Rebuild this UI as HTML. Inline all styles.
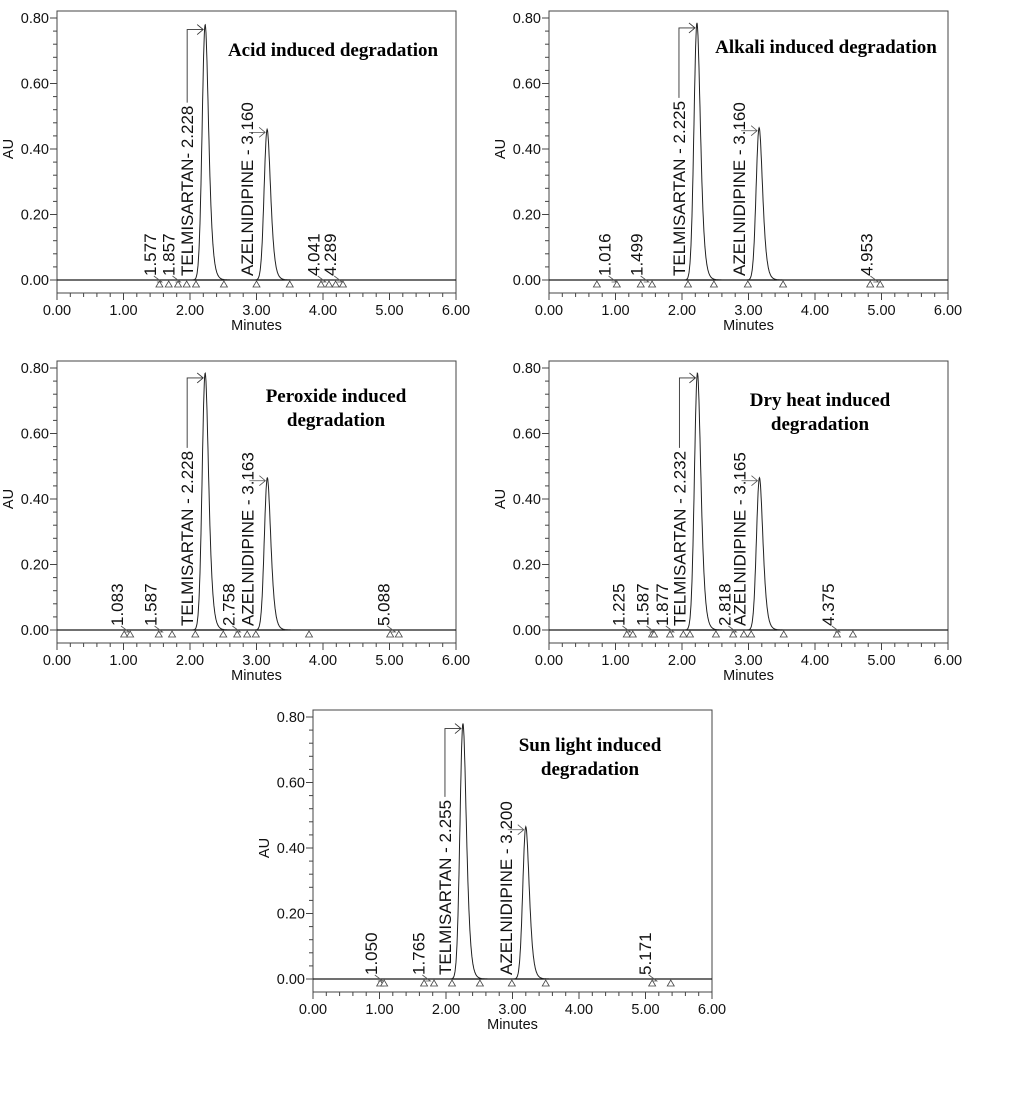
<!DOCTYPE html>
<html><head><meta charset="utf-8"><style>
html,body{margin:0;padding:0;background:#fff;}
svg{display:block;font-family:"Liberation Sans",Arial,sans-serif;}
.tk{font-size:14.5px;fill:#111;}
.lb{font-size:17px;fill:#111;}
.tt{font-family:"Liberation Serif",serif;font-weight:bold;font-size:19px;fill:#000;}
</style></head><body>
<svg id="c" width="1027" height="1118" viewBox="0 0 1027 1118"></svg>
<script>
// panel data
const panelNames=["acid","alkali","peroxide","dry-heat","sun-light"];
const titles=[["Acid induced degradation"],["Alkali induced degradation"],["Peroxide induced","degradation"],["Dry heat induced","degradation"],["Sun light induced","degradation"]];
const telmRT=[2.228,2.225,2.228,2.232,2.255];
const azelRT=[3.160,3.160,3.163,3.165,3.200];
const telmH=[0.78,0.785,0.785,0.785,0.78];
const azelH=[0.46,0.465,0.465,0.465,0.465];
const minorLabels=[[1.577,1.857,4.041,4.289],[1.016,1.499,4.953],[1.083,1.587,2.758,5.088],[1.225,1.587,1.877,2.818,4.375],[1.050,1.765,5.171]];
const triangles=[[1.54,1.68,1.82,1.95,2.09,2.51,3.0,3.5,3.97,4.09,4.19,4.30],[0.72,1.02,1.38,1.55,2.09,2.48,2.99,3.52,4.83,4.98],[1.01,1.10,1.53,1.73,2.08,2.50,2.71,2.86,2.99,3.79,5.01,5.14],[1.17,1.26,1.55,1.58,1.82,2.02,2.12,2.51,2.77,2.93,3.04,3.53,4.33,4.57],[1.01,1.07,1.67,1.82,2.09,2.51,2.99,3.50,5.10,5.38]];
const xTicks=[0,1,2,3,4,5,6];
const yTicks=[0,0.2,0.4,0.6,0.8];
// layout (not data)
const origins=[[57,0],[549,0],[57,350],[549,350],[313,699]];
const titlePos=[[333,56],[826,53],[336,402],[820,406],[590,751]];
const NS="http://www.w3.org/2000/svg";
const svg=document.getElementById('c');
function mk(t,a,p){const e=document.createElementNS(NS,t);for(const k in a)e.setAttribute(k,a[k]);(p||svg).appendChild(e);return e;}
panelNames.forEach((nm,i)=>{
  const [ox,oy]=origins[i];
  const g=mk('g',{});
  
  
  const X=m=>ox+m*66.5, Y=v=>oy+280-v*327.5;
  const top=oy+11,bot=oy+293,right=ox+399;
  mk('rect',{x:ox,y:top,width:399,height:bot-top,fill:'none',stroke:'#444','stroke-width':1},g);
  mk('line',{x1:ox,y1:Y(0),x2:right,y2:Y(0),stroke:'#000','stroke-width':1.2},g);
  for(let m=0;m<=6.001;m+=0.2){const big=Math.abs(m-Math.round(m))<0.01;
    mk('line',{x1:X(m),y1:bot,x2:X(m),y2:bot+(big?7:4),stroke:'#444'},g);}
  xTicks.forEach(t=>{const e=mk('text',{x:X(t),y:bot+22,'text-anchor':'middle',class:'tk'},g);e.textContent=t.toFixed(2);
    
    });
  for(let v=-0.04;v<=0.82;v+=0.04){const vv=Math.round(v*100)/100;const big=Math.abs(vv*5-Math.round(vv*5))<0.001;
    if(Y(vv)<top||Y(vv)>bot)continue;
    mk('line',{x1:ox,y1:Y(vv),x2:ox-(big?7:4),y2:Y(vv),stroke:'#444'},g);}
  yTicks.forEach(t=>{const e=mk('text',{x:ox-8,y:Y(t)+5,'text-anchor':'end',class:'tk'},g);e.textContent=t.toFixed(2);
    
    });
  let e=mk('text',{x:X(3),y:bot+37,'text-anchor':'middle',class:'tk'},g);e.textContent='Minutes';
  
  
  e=mk('text',{x:ox-44,y:Y(0.4),'text-anchor':'middle',class:'tk',transform:`rotate(-90,${ox-44},${Y(0.4)})`},g);e.textContent='AU';
  
  
  const peak=(t,rt,h)=>{const d=t-rt;const s=d<0?0.045:0.045+d*0.12;return h*Math.exp(-d*d/(2*s*s));};
  let d='';
  for(let t=0;t<=6;t+=0.005){const v=peak(t,telmRT[i],telmH[i])+peak(t,azelRT[i],azelH[i]);d+=(d?'L':'M')+X(t).toFixed(1)+','+Y(v).toFixed(1);}
  const tr=mk('path',{d:d,fill:'none',stroke:'#222','stroke-width':1},g);
  
  
  triangles[i].forEach(m=>{const x=X(m),y=Y(0)+4;
    const p=mk('path',{d:`M${x-3.5},${y+3}L${x+3.5},${y+3}L${x},${y-3}Z`,fill:'#fff',stroke:'#444','stroke-width':0.8},g);
    
    });
  minorLabels[i].forEach(m=>{const x=X(m)-6,y=Y(0)-4;
    const t=mk('text',{x:x,y:y,class:'lb',transform:`rotate(-90,${x},${y})`},g);t.textContent=m.toFixed(3);
    
    
    mk('path',{d:`M${x-2},${y}L${X(m)},${Y(0)+2}M${X(m)-4},${Y(0)-1}L${X(m)},${Y(0)+2}L${X(m)-5},${Y(0)+2}`,fill:'none',stroke:'#555','stroke-width':0.8},g);});
  let lx=X(telmRT[i])-12,ly=Y(0)-4;
  const tl=mk('text',{x:lx,y:ly,class:'lb',transform:`rotate(-90,${lx},${ly})`},g);
  tl.textContent=i==0?'TELMISARTAN- '+telmRT[i].toFixed(3):'TELMISARTAN - '+telmRT[i].toFixed(3);
  
  
  const tlen=tl.getComputedTextLength();
  const bx=lx-6,yt=Y(telmH[i])+5,px=X(telmRT[i])-2;
  mk('path',{d:`M${bx},${ly-tlen-3}L${bx},${yt}L${px},${yt}M${px-6},${yt-5}L${px},${yt}L${px-6},${yt+5}`,fill:'none',stroke:'#333','stroke-width':0.9},g);
  lx=X(azelRT[i])-14;
  const al=mk('text',{x:lx,y:ly,class:'lb',transform:`rotate(-90,${lx},${ly})`},g);
  al.textContent='AZELNIDIPINE - '+azelRT[i].toFixed(3);
  
  
  const ay=Y(azelH[i])+3,apx=X(azelRT[i])-2;
  mk('path',{d:`M${lx-4},${ay}L${apx},${ay}M${apx-6},${ay-5}L${apx},${ay}L${apx-6},${ay+5}`,fill:'none',stroke:'#555','stroke-width':0.8},g);
  titles[i].forEach((s,k)=>{const t=mk('text',{x:titlePos[i][0],y:titlePos[i][1]+k*24,'text-anchor':'middle',class:'tt'},g);t.textContent=s;
    
    });
});
</script>
</body></html>
